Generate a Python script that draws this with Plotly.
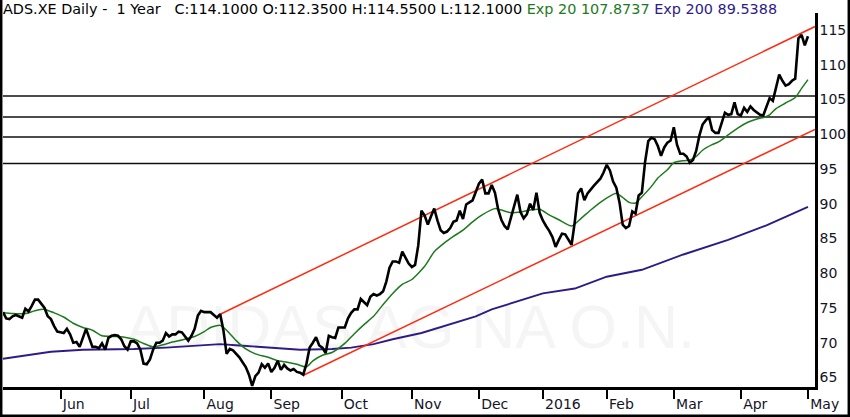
import plotly.graph_objects as go

# ---------------- data ----------------
close = [
    74.4, 73.5, 73.4, 73.8, 74.0, 73.8, 73.6, 74.9, 74.5, 75.3,
    76.2, 76.2, 75.6, 75.0, 73.8, 73.4, 72.4, 71.6, 71.5, 71.4,
    72.0, 71.2, 70.0, 70.1, 69.4, 70.7, 72.0, 70.7, 69.4, 69.4,
    69.2, 69.9, 69.0, 70.7, 71.0, 71.1, 71.0, 70.5, 69.5, 69.0,
    70.2, 70.2, 69.9, 69.0, 67.0, 66.9, 67.6, 69.0, 70.0, 70.0,
    70.3, 71.4, 70.9, 71.2, 71.2, 71.6, 71.5, 70.9, 70.3, 71.0,
    72.0, 73.9, 74.6, 74.4, 74.4, 74.4, 74.0, 73.6, 74.1, 71.8,
    68.4, 69.1, 68.9, 68.4, 67.9, 67.2, 66.5, 65.4, 63.8, 65.2,
    65.7, 66.9, 66.4, 67.0, 65.8, 66.4, 67.4, 66.1, 66.8, 66.3,
    66.0, 66.2, 65.8, 65.7, 65.4, 67.0, 69.3, 70.0, 70.8, 69.6,
    69.3, 68.5, 71.0, 70.8, 70.7, 72.2, 72.2, 72.2, 73.5, 74.3,
    74.8, 74.8, 76.3, 75.8, 75.4, 76.6, 77.0, 76.8, 77.0, 77.4,
    78.8, 80.8, 81.7, 81.7, 81.5, 83.1, 82.2, 81.4, 80.9, 81.2,
    84.0, 89.0, 88.3, 87.0, 88.2, 89.3, 87.6, 86.2, 85.8, 86.0,
    86.5, 87.4, 87.6, 89.0, 87.8, 89.9, 90.2, 90.5, 91.7, 92.9,
    93.5, 91.5, 91.5, 92.7, 91.6, 89.2, 87.7, 86.8, 86.3, 88.0,
    89.8, 91.3, 88.8, 87.9, 88.5, 90.0, 89.1, 91.6, 88.7, 87.6,
    86.8, 86.1, 85.2, 83.8, 84.8, 85.7, 85.6, 84.9, 84.1, 87.4,
    91.5, 92.2, 90.5, 91.5, 92.1, 92.6, 93.1, 93.6, 94.5, 95.6,
    94.8, 93.2, 92.3, 90.2, 87.0, 86.5, 86.8, 88.9, 88.6, 91.2,
    91.6, 96.0, 99.0, 99.5, 99.3, 98.3, 96.9, 98.1, 98.8, 99.1,
    101.0, 98.5, 97.2, 97.2, 96.8, 95.9, 96.3, 97.6, 99.8, 101.4,
    102.0, 102.5, 100.6, 100.2, 100.2, 101.6, 103.1, 102.8, 102.9, 104.6,
    102.9, 102.7, 103.8, 103.2, 104.0, 103.5, 103.2, 102.8, 102.7, 103.9,
    105.2, 104.8, 106.5, 108.6, 107.7, 107.0, 107.2, 107.7, 108.0, 113.8,
    114.3, 112.8, 114.1,
]
day_index = list(range(len(close)))

ema20_idx = [0, 3, 7, 10, 13, 16, 19, 22, 25, 28, 31, 35, 38, 41, 44, 47, 50, 53,
             56, 60, 63, 65, 68, 70, 73, 76, 79, 83, 86, 89, 92, 95, 97, 100, 103,
             107, 110, 113, 116, 119, 122, 125, 128, 132, 135, 138, 141, 144, 147,
             150, 154, 156, 159, 162, 165, 168, 171, 174, 178, 181, 184, 187, 190,
             192, 194, 196, 198, 200, 203, 205, 208, 210, 213, 215, 217, 219, 222,
             224, 227, 230, 233, 236, 238, 240, 242, 245, 248, 250, 252]
ema20_val = [74.3, 74.2, 74.2, 74.6, 74.8, 74.3, 73.7, 72.8, 72.2, 71.8, 71.0, 70.9,
             70.8, 70.5, 69.9, 69.4, 69.7, 70.1, 70.4, 70.9, 71.6, 72.2, 72.5, 71.8,
             70.3, 69.1, 68.4, 67.9, 67.4, 67.2, 66.9, 66.5, 67.4, 68.2, 68.6, 69.9,
             71.3, 72.6, 73.8, 75.5, 77.1, 78.4, 79.1, 81.0, 83.1, 84.3, 85.3, 86.2,
             87.4, 88.4, 89.3, 89.1, 88.7, 88.8, 89.1, 89.2, 88.4, 87.7, 86.8, 87.9,
             89.1, 90.2, 91.1, 91.5, 90.9, 90.2, 90.1, 91.0, 92.5, 93.7, 94.9, 95.9,
             96.2, 96.3, 96.8, 97.7, 98.5, 98.9, 99.9, 100.9, 101.7, 102.2, 102.4,
             102.8, 103.7, 104.5, 105.3, 106.6, 107.87]

ema200_idx = [0, 8, 15, 25, 41, 51, 62, 68, 74, 83, 93, 103, 109, 116, 122, 131,
              148, 153, 169, 179, 189, 200, 213, 227, 239, 252]
ema200_val = [67.7, 68.2, 68.7, 69.0, 69.1, 69.3, 69.6, 69.8, 69.6, 69.3, 69.0, 69.1,
              69.3, 69.8, 70.5, 71.4, 73.8, 74.8, 77.1, 77.8, 79.5, 80.5, 82.7, 84.8,
              86.9, 89.54]

channel_upper_idx = [68, 254.2]
channel_upper_val = [74.1, 115.5]
channel_lower_idx = [94.2, 254.2]
channel_lower_val = [65.35, 100.7]

hlines = [105.5, 102.5, 99.6, 95.8]

month_ticks = [18, 40, 63, 84, 106, 128, 149, 169, 189, 210, 231, 252]
month_labels = ["Jun", "Jul", "Aug", "Sep", "Oct", "Nov", "Dec", "2016",
                "Feb", "Mar", "Apr", "May"]
price_ticks = [65, 70, 75, 80, 85, 90, 95, 100, 105, 110, 115]

title_main = "ADS.XE Daily -  1 Year   C:114.1000 O:112.3500 H:114.5500 L:112.1000"
title_ema20 = "Exp 20 107.8737"
title_ema200 = "Exp 200 89.5388"
watermark = "ADIDAS AG NA O.N."

# ---------------- figure ----------------
W, H = 850, 417
ML, MR, MT, MB = 3, 35, 13, 30
PW, PH = W - ML - MR, H - MT - MB

GREEN = "#1c7a1c"
PURPLE = "#2f1b86"
RED = "#ff2a10"
INK = "#141428"

fig = go.Figure()

# watermark (drawn first, under everything)
fig.add_trace(go.Scatter(
    x=[127.5], y=[71.4], mode="text", text=[watermark],
    textfont=dict(family="Liberation Sans", size=61, color="#f4f5f4"),
    hoverinfo="skip", showlegend=False))

fig.add_trace(go.Scatter(x=ema200_idx, y=ema200_val, mode="lines",
                         line=dict(color=PURPLE, width=1.9), hoverinfo="skip"))
fig.add_trace(go.Scatter(x=channel_upper_idx, y=channel_upper_val, mode="lines",
                         line=dict(color=RED, width=1.5), hoverinfo="skip"))
fig.add_trace(go.Scatter(x=channel_lower_idx, y=channel_lower_val, mode="lines",
                         line=dict(color=RED, width=1.5), hoverinfo="skip"))
fig.add_trace(go.Scatter(x=ema20_idx, y=ema20_val, mode="lines",
                         line=dict(color=GREEN, width=1.5, shape="spline", smoothing=0.6),
                         hoverinfo="skip"))
fig.add_trace(go.Scatter(x=day_index, y=close, mode="lines",
                         line=dict(color="black", width=2.6), hoverinfo="skip"))

shapes = []
for v in hlines:
    shapes.append(dict(type="line", xref="paper", x0=0, x1=1, yref="y", y0=v, y1=v,
                       line=dict(color="#101010", width=1.5), layer="below"))


def px_x(X):
    return (X - ML) / PW


def px_y(Y):
    return (H - MB - Y) / PH


# outer frame (left, right, bottom image edges)
shapes.append(dict(type="line", xref="paper", yref="paper",
                   x0=px_x(1.2), x1=px_x(1.2), y0=px_y(0), y1=px_y(417),
                   line=dict(color="black", width=2.5)))
shapes.append(dict(type="line", xref="paper", yref="paper",
                   x0=px_x(848.8), x1=px_x(848.8), y0=px_y(0), y1=px_y(417),
                   line=dict(color="black", width=2.5)))
shapes.append(dict(type="line", xref="paper", yref="paper",
                   x0=px_x(0), x1=px_x(850), y0=px_y(415.8), y1=px_y(415.8),
                   line=dict(color="black", width=2.5)))

title_html = (f"{title_main} "
              f"<span style='color:{GREEN}'>{title_ema20}</span> "
              f"<span style='color:{PURPLE}'>{title_ema200}</span>")

fig.update_layout(
    width=W, height=H,
    margin=dict(l=ML, r=MR, t=MT, b=MB, pad=0),
    paper_bgcolor="white", plot_bgcolor="white",
    showlegend=False, hovermode=False,
    shapes=shapes,
    annotations=[dict(text=title_html, xref="paper", yref="paper",
                      x=px_x(2), y=px_y(0), xanchor="left", yanchor="top",
                      showarrow=False, borderpad=0,
                      font=dict(family="DejaVu Sans", size=14.4, color="black"))],
    xaxis=dict(range=[0, 254.2], tickmode="array", tickvals=month_ticks,
               ticktext=month_labels, ticks="outside", ticklen=9, tickwidth=2,
               tickcolor="black", ticklabelposition="outside right",
               ticklabelstandoff=2,
               showline=True, linecolor="black", linewidth=2.5,
               showgrid=False, zeroline=False, fixedrange=True,
               tickfont=dict(family="DejaVu Sans", size=14, color=INK)),
    yaxis=dict(range=[63.63, 117.45], side="right", tickmode="array",
               tickvals=price_ticks, ticks="", showline=True, linecolor="black",
               linewidth=2.5, showgrid=False, zeroline=False, fixedrange=True,
               ticklabelstandoff=-1,
               tickfont=dict(family="DejaVu Sans", size=14, color=INK)),
)

fig.write_html("out.html", config={"displayModeBar": False},
               post_script="document.body.style.margin='0';")
